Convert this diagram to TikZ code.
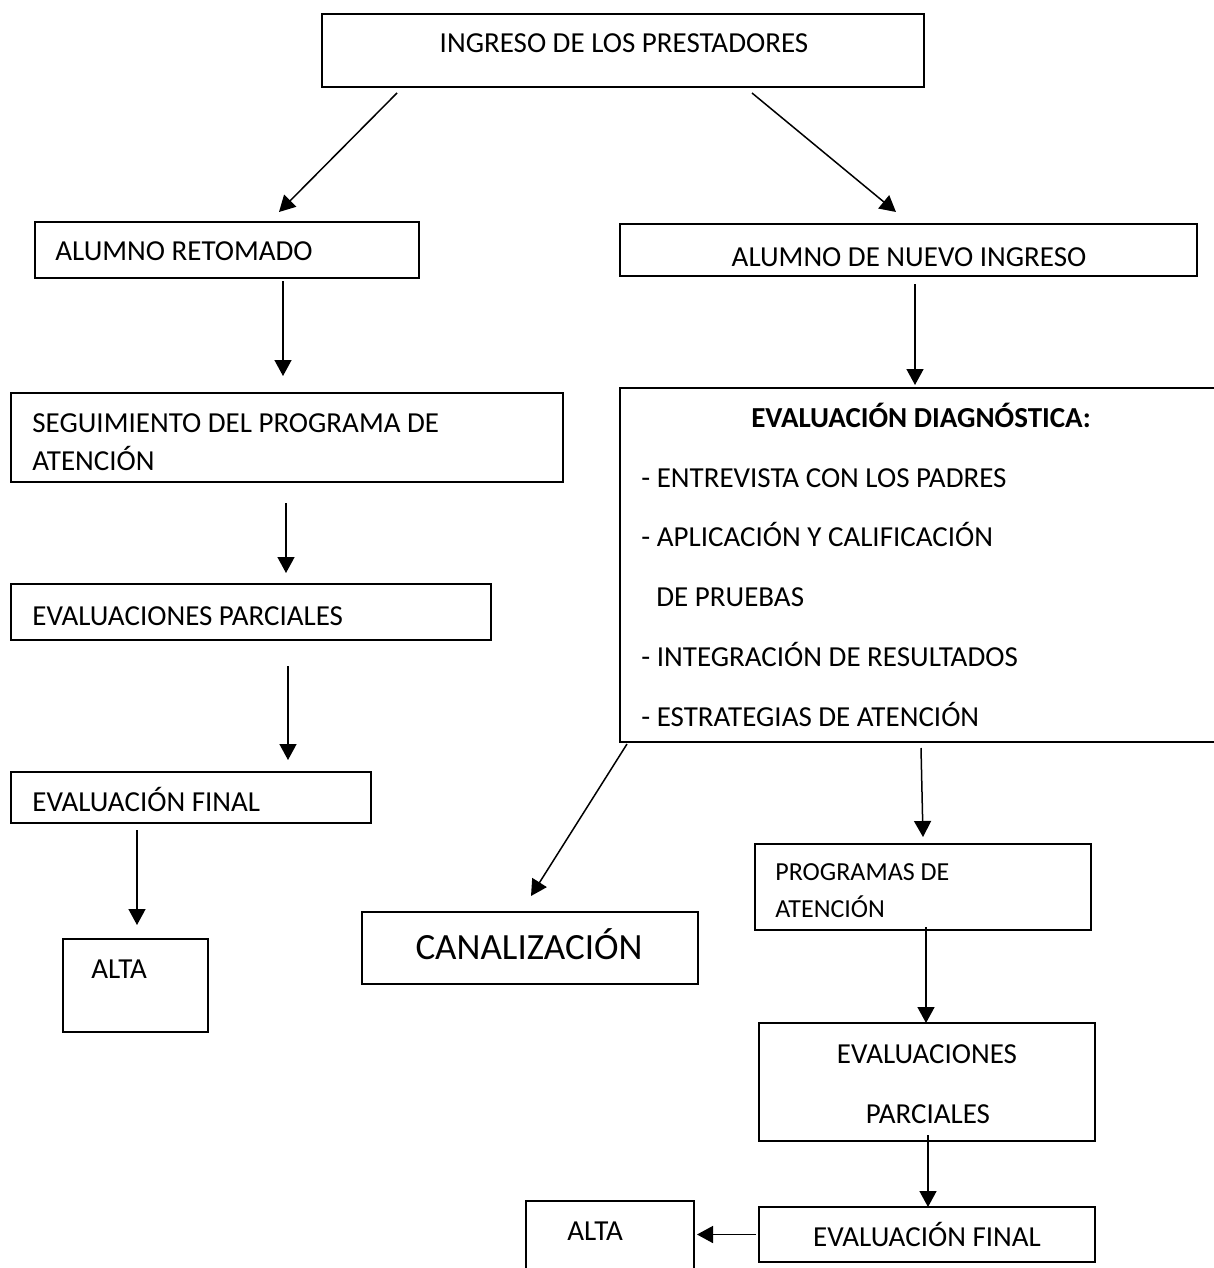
\documentclass[tikz,border=0pt]{standalone}
\usepackage{fontspec}
\setmainfont{Carlito}
\usetikzlibrary{arrows.meta}
\tikzset{
  box/.style={draw, line width=1pt, inner sep=0pt, outer sep=0pt, anchor=north west},
  txt/.style={inner sep=0pt, font=\fontsize{14.5}{17}\selectfont},
  arr/.style={-{Triangle[length=8pt,width=8.5pt]}, line width=0.75pt}
}
\begin{document}
\begin{tikzpicture}[x=0.5pt, y=-0.5pt]
  \useasboundingbox (0,0) rectangle (1214,1268);
  % boxes, placed by their top-left corner
  \node[box, minimum width=301pt, minimum height=36.5pt] (ingreso) at (322,14) {};
  \node[box, minimum width=192pt, minimum height=28pt] (retomado) at (35,222) {};
  \node[box, minimum width=288.5pt, minimum height=26pt] (nuevo) at (620,224) {};
  \node[box, minimum width=276pt, minimum height=44.5pt] (seguim) at (11,393) {};
  \node[box, minimum width=240pt, minimum height=28pt] (parciales) at (11,584) {};
  \node[box, minimum width=180pt, minimum height=25.5pt] (final) at (11,772) {};
  \node[box, minimum width=72.5pt, minimum height=46.5pt] (alta) at (63,939) {};
  \node[box, minimum width=301pt, minimum height=177pt] (diag) at (620,388) {};
  \node[box, minimum width=168pt, minimum height=36pt] (canal) at (362,912) {};
  \node[box, minimum width=168pt, minimum height=43pt] (prog) at (755,844) {};
  \node[box, minimum width=168pt, minimum height=59pt] (parcialesB) at (759,1023) {};
  \node[box, minimum width=168pt, minimum height=27.5pt] (finalB) at (759,1207) {};
  \node[box, minimum width=84pt, minimum height=44.5pt] (altaB) at (526,1201) {};
  % texts
  \node[txt, anchor=base] (ingreso-t) at (624,53) {INGRESO DE LOS PRESTADORES};
  \node[txt, anchor=base west] (retomado-t) at (55,260) {ALUMNO RETOMADO};
  \node[txt, anchor=base] (nuevo-t) at (909,266) {ALUMNO DE NUEVO INGRESO};
  \node[txt, anchor=base west] (seguim-t1) at (32,432) {SEGUIMIENTO DEL PROGRAMA DE};
  \node[txt, anchor=base west] (seguim-t2) at (32,470) {ATENCIÓN};
  \node[txt, anchor=base west] (parciales-t) at (32,625) {EVALUACIONES PARCIALES};
  \node[txt, anchor=base west] (final-t) at (32,811) {EVALUACIÓN FINAL};
  \node[txt, anchor=base west] (alta-t) at (91,978) {ALTA};
  \node[txt, font=\fontsize{14.5}{17}\selectfont\bfseries, anchor=base] (diag-t) at (921,427)
    {EVALUACIÓN DIAGNÓSTICA:};
  \foreach \x/\y/\t [count=\i] in {641/487/{- ENTREVISTA CON LOS PADRES},
      641/546/{- APLICACIÓN Y CALIFICACIÓN}, 656/606/{DE PRUEBAS},
      641/666/{- INTEGRACIÓN DE RESULTADOS}, 641/726/{- ESTRATEGIAS DE ATENCIÓN}}
    \node[txt, anchor=base west] (diag-\i) at (\x,\y) {\t};
  \node[txt, font=\fontsize{18.5}{22}\selectfont, anchor=base] (canal-t) at (529,959) {CANALIZACIÓN};
  \node[txt, font=\fontsize{13}{15}\selectfont, anchor=base west] (prog-t1) at (775,880) {PROGRAMAS DE};
  \node[txt, font=\fontsize{13}{15}\selectfont, anchor=base west] (prog-t2) at (775,917) {ATENCIÓN};
  \node[txt, anchor=base] (parcialesB-t1) at (927,1063) {EVALUACIONES};
  \node[txt, anchor=base] (parcialesB-t2) at (928,1123) {PARCIALES};
  \node[txt, anchor=base] (finalB-t) at (927,1246) {EVALUACIÓN FINAL};
  \node[txt, anchor=base west] (altaB-t) at (567,1240) {ALTA};
  % arrows
  \draw[arr] ([xshift=37.5pt,yshift=-3pt]ingreso.south west) -- ([xshift=26pt,yshift=5pt]retomado.north);
  \draw[arr] ([xshift=-86pt,yshift=-3pt]ingreso.south east) -- ([xshift=-6.25pt,yshift=6pt]nuevo.north);
  \draw[arr] ([xshift=28pt,yshift=-1.5pt]retomado.south) -- ([xshift=-2pt,yshift=8.5pt]seguim.north);
  \draw[arr] ([xshift=3.25pt,yshift=-4pt]nuevo.south) -- ([xshift=-3pt,yshift=1.5pt]diag.north);
  \draw[arr] ([xshift=-0.5pt,yshift=-10.5pt]seguim.south) -- ([xshift=17.5pt,yshift=5.5pt]parciales.north);
  \draw[arr] ([xshift=18.5pt,yshift=-13pt]parciales.south) -- ([xshift=48.5pt,yshift=6pt]final.north);
  \draw[arr] ([xshift=-27pt,yshift=-3.5pt]final.south) -- ([xshift=0.75pt,yshift=7pt]alta.north);
  \draw[arr] ([xshift=3.5pt,yshift=-1pt]diag.south west) -- ([xshift=0.5pt,yshift=8pt]canal.north);
  \draw[arr] ([yshift=-3pt]diag.south) -- ([yshift=3.5pt]prog.north);
  \draw[arr] ([xshift=1.5pt,yshift=1.5pt]prog.south) -- ([xshift=-0.5pt]parcialesB.north);
  \draw[arr] ([xshift=0.5pt,yshift=3pt]parcialesB.south) -- ([xshift=0.5pt]finalB.north);
  \draw[arr] ([xshift=-1.5pt]finalB.west) -- ([xshift=1.5pt]finalB.west -| altaB.east);
\end{tikzpicture}
\end{document}
